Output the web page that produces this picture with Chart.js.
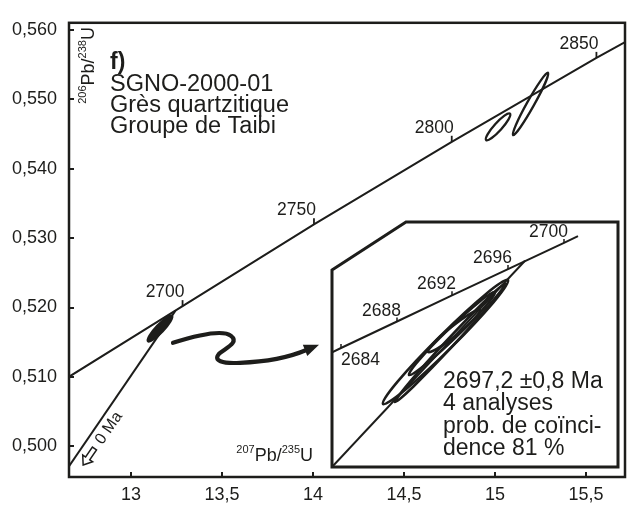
<!DOCTYPE html>
<html>
<head>
<meta charset="utf-8">
<script src="https://cdn.jsdelivr.net/npm/chart.js@4.4.0/dist/chart.umd.min.js"></script>
<style>
  body { margin: 0; background: #fff; }
  #wrap { position: relative; width: 628px; height: 508px; }
  #main { position: absolute; left: 0; top: 0; }
  #inset { position: absolute; left: 330px; top: 220px; }
</style>
</head>
<body>
<div id="wrap">
  <canvas id="main" width="628" height="508"></canvas>
  <canvas id="inset" width="290" height="249"></canvas>
</div>
<script>
var ink = '#1d1d1b';
var FONT = "'Liberation Sans', Arial, Helvetica, sans-serif";

// axes
var xTicks = [13, 13.5, 14, 14.5, 15, 15.5];
var xTickLabels = ['13', '13,5', '14', '14,5', '15', '15,5'];
var yTicks = [0.50, 0.51, 0.52, 0.53, 0.54, 0.55, 0.56];
var yTickLabels = ['0,500', '0,510', '0,520', '0,530', '0,540', '0,550', '0,560'];

// concordia, main diagram (age Ma -> 207Pb/235U, 206Pb/238U)
var concAges = [2650, 2700, 2750, 2800, 2850, 2900];
var concX = [12.597, 13.283, 14.005, 14.762, 15.557, 16.393];
var concY = [0.5090, 0.5202, 0.5320, 0.5439, 0.5560, 0.5681];
var concLabelAges = [2700, 2750, 2800, 2850];

// discordia towards 0 Ma
var discX = [12.55, 13.244];
var discY = [0.49293, 0.51955];

// error ellipses, main diagram (ends of long axis, width ratio)
var ellX1 = [13.093, 14.951, 15.099];
var ellY1 = [0.51514, 0.54415, 0.54486];
var ellX2 = [13.225, 15.082, 15.291];
var ellY2 = [0.51880, 0.54796, 0.55387];
var ellRatio = [0.22, 0.22, 0.10];
var ellFilled = [true, false, false];

// inset: zoom on the 2680-2700 Ma part
var insAges = [2680, 2684, 2688, 2692, 2696, 2700, 2701];
var insX = [13.005, 13.060, 13.116, 13.171, 13.227, 13.283, 13.297];
var insY = [0.51548, 0.51642, 0.51737, 0.51831, 0.51925, 0.52019, 0.52043];
var insLabelAges = [2684, 2688, 2692, 2696, 2700];
var insDiscX = [13.051, 13.244];
var insDiscY = [0.51215, 0.51955];
var insEllX1 = [13.102, 13.114, 13.128, 13.147];
var insEllY1 = [0.51441, 0.51448, 0.51545, 0.51628];
var insEllX2 = [13.227, 13.224, 13.214, 13.199];
var insEllY2 = [0.51886, 0.51872, 0.51843, 0.51778];
var insEllRatio = [0.09, 0.05, 0.09, 0.14];

var insetText = ['2697,2 \u00B10,8 Ma', '4 analyses', 'prob. de co\u00EFnci-', 'dence 81 %'];
var sampleText = ['SGNO-2000-01', 'Gr\u00E8s quartzitique', 'Groupe de Taibi'];

function pts(xs, ys) {
  return xs.map(function (x, i) { return { x: x, y: ys[i] }; });
}

function lineSet(data, w) {
  return { data: data, showLine: true, borderColor: ink, borderWidth: w, pointRadius: 0, tension: 0, fill: false };
}

function drawEllipses(chart, x1, y1, x2, y2, ratio, filled, lw) {
  var xs = chart.scales.x, ys = chart.scales.y, ctx = chart.ctx;
  for (var i = 0; i < x1.length; i++) {
    var ax = xs.getPixelForValue(x1[i]), ay = ys.getPixelForValue(y1[i]);
    var bx = xs.getPixelForValue(x2[i]), by = ys.getPixelForValue(y2[i]);
    var a = Math.hypot(bx - ax, by - ay) / 2;
    ctx.beginPath();
    ctx.ellipse((ax + bx) / 2, (ay + by) / 2, a, a * ratio[i], Math.atan2(by - ay, bx - ax), 0, Math.PI * 2);
    if (filled && filled[i]) { ctx.fillStyle = ink; ctx.fill(); }
    ctx.lineWidth = lw;
    ctx.strokeStyle = ink;
    ctx.stroke();
  }
}

function drawRich(ctx, parts, x, y, measureOnly) {
  var x0 = x;
  parts.forEach(function (p) {
    ctx.font = (p.sup ? '11px ' : '18px ') + FONT;
    if (!measureOnly) ctx.fillText(p.t, x, p.sup ? y - 8 : y);
    x += ctx.measureText(p.t).width;
  });
  return x - x0;
}

var mainDecor = {
  id: 'mainDecor',
  afterDraw: function (chart) {
    var ctx = chart.ctx, a = chart.chartArea;
    var xs = chart.scales.x, ys = chart.scales.y;
    ctx.save();
    ctx.strokeStyle = ink;
    ctx.fillStyle = ink;
    ctx.lineCap = 'butt';

    // frame + inward ticks
    ctx.lineWidth = 2.5;
    ctx.strokeRect(a.left, a.top, a.right - a.left, a.bottom - a.top);
    ctx.lineWidth = 2;
    xTicks.forEach(function (v) {
      var p = Math.round(xs.getPixelForValue(v));
      ctx.beginPath(); ctx.moveTo(p, a.bottom); ctx.lineTo(p, a.bottom - 5); ctx.stroke();
    });
    yTicks.forEach(function (v) {
      var p = Math.round(ys.getPixelForValue(v));
      ctx.beginPath(); ctx.moveTo(a.left, p); ctx.lineTo(a.left + 5, p); ctx.stroke();
    });

    // ellipses
    drawEllipses(chart, ellX1, ellY1, ellX2, ellY2, ellRatio, ellFilled, 2.3);

    // age ticks on concordia
    var meta = chart.getDatasetMeta(0);
    ctx.font = '17.5px ' + FONT;
    ctx.textAlign = 'right';
    ctx.textBaseline = 'alphabetic';
    ctx.lineWidth = 1.8;
    concLabelAges.forEach(function (age) {
      var el = meta.data[concAges.indexOf(age)];
      ctx.beginPath(); ctx.moveTo(el.x, el.y); ctx.lineTo(el.x, el.y - 6); ctx.stroke();
      ctx.fillText(String(age), el.x + 2, el.y - 9);
    });

    // sample description
    ctx.textAlign = 'left';
    ctx.font = 'bold 23px ' + FONT;
    ctx.fillText('f)', a.left + 41, a.top + 46);
    ctx.font = '23.5px ' + FONT;
    sampleText.forEach(function (t, i) {
      ctx.fillText(t, a.left + 41, a.top + 68 + i * 21);
    });

    // axis titles
    var yTitle = [{ t: '206', sup: true }, { t: 'Pb/' }, { t: '238', sup: true }, { t: 'U' }];
    ctx.save();
    ctx.translate(a.left + 24.5, a.top + 81);
    ctx.rotate(-Math.PI / 2);
    drawRich(ctx, yTitle, 0, 0);
    ctx.restore();
    var xTitle = [{ t: '207', sup: true }, { t: 'Pb/' }, { t: '235', sup: true }, { t: 'U' }];
    var w = drawRich(ctx, xTitle, 0, 0, true);
    drawRich(ctx, xTitle, xs.getPixelForValue(14) - w, a.bottom - 16);

    // "0 Ma" with hollow arrow along the discordia
    var dm = chart.getDatasetMeta(1);
    var p0 = dm.data[0], p1 = dm.data[1];
    var len = Math.hypot(p1.x - p0.x, p1.y - p0.y);
    var ux = (p1.x - p0.x) / len, uy = (p1.y - p0.y) / len;
    var t = (a.left - p0.x) / ux;
    var sx = p0.x + ux * t, sy = p0.y + uy * t;
    var nx = -uy, ny = ux; // normal towards lower right
    if (ny < 0) { nx = -nx; ny = -ny; }
    var ang = Math.atan2(uy, ux);
    ctx.save();
    ctx.translate(sx + ux * 54 + nx * 11.5, sy + uy * 54 + ny * 11.5);
    ctx.rotate(ang);
    ctx.font = '16px ' + FONT;
    ctx.textAlign = 'center';
    ctx.textBaseline = 'middle';
    ctx.fillText('0 Ma', 0, 0);
    ctx.restore();
    ctx.save();
    ctx.translate(sx + ux * 19 + nx * 11, sy + uy * 19 + ny * 11);
    ctx.rotate(ang + Math.PI);
    ctx.beginPath();
    ctx.moveTo(10, 0);
    ctx.lineTo(2, -6);
    ctx.lineTo(2, -2.5);
    ctx.lineTo(-10, -2.5);
    ctx.lineTo(-10, 2.5);
    ctx.lineTo(2, 2.5);
    ctx.lineTo(2, 6);
    ctx.closePath();
    ctx.lineWidth = 1.5;
    ctx.stroke();
    ctx.restore();

    // curly arrow towards the inset
    var L = a.left, T = a.top;
    ctx.lineWidth = 4.2;
    ctx.lineCap = 'round';
    ctx.beginPath();
    ctx.moveTo(L + 104, T + 320);
    ctx.bezierCurveTo(L + 126, T + 313, L + 153, T + 306, L + 162, T + 313);
    ctx.bezierCurveTo(L + 171, T + 320, L + 155, T + 326, L + 150, T + 331);
    ctx.bezierCurveTo(L + 144, T + 338, L + 153, T + 341, L + 171, T + 340);
    ctx.bezierCurveTo(L + 201, T + 339, L + 224, T + 333, L + 238, T + 327);
    ctx.stroke();
    var hx = L + 250, hy = T + 322;
    var da = Math.atan2(-6, 15);
    ctx.beginPath();
    ctx.moveTo(hx, hy);
    ctx.lineTo(hx - 15 * Math.cos(da) + 6 * Math.sin(da), hy - 15 * Math.sin(da) - 6 * Math.cos(da));
    ctx.lineTo(hx - 15 * Math.cos(da) - 6 * Math.sin(da), hy - 15 * Math.sin(da) + 6 * Math.cos(da));
    ctx.closePath();
    ctx.fill();

    ctx.restore();
  }
};

new Chart(document.getElementById('main'), {
  type: 'scatter',
  data: {
    datasets: [
      lineSet(pts(concX, concY), 2),
      lineSet(pts(discX, discY), 2)
    ]
  },
  options: {
    responsive: false,
    animation: false,
    layout: { padding: { left: 0, top: 12, right: 3, bottom: 0 } },
    plugins: { legend: { display: false }, tooltip: { enabled: false } },
    scales: {
      x: {
        type: 'linear', min: 12.659, max: 15.714,
        afterFit: function (s) { s.height = 31; },
        afterBuildTicks: function (s) { s.ticks = xTicks.map(function (v) { return { value: v }; }); },
        ticks: {
          callback: function (v, i) { return xTickLabels[i]; },
          font: { family: FONT, size: 18 }, color: ink, padding: 7, maxRotation: 0, autoSkip: false
        },
        grid: { display: false, drawTicks: false },
        border: { display: false }
      },
      y: {
        type: 'linear', min: 0.49556, max: 0.56106,
        afterFit: function (s) { s.width = 69; },
        afterBuildTicks: function (s) { s.ticks = yTicks.map(function (v) { return { value: v }; }); },
        ticks: {
          callback: function (v, i) { return yTickLabels[i]; },
          font: { family: FONT, size: 18 }, color: ink, padding: 12, autoSkip: false
        },
        grid: { display: false, drawTicks: false },
        border: { display: false }
      }
    }
  },
  plugins: [mainDecor]
});

var insetDecor = {
  id: 'insetDecor',
  beforeDatasetsDraw: function (chart) {
    var ctx = chart.ctx, a = chart.chartArea;
    ctx.save();
    ctx.beginPath();
    ctx.moveTo(a.left, a.top + 48);
    ctx.lineTo(a.left + 74, a.top);
    ctx.lineTo(a.right, a.top);
    ctx.lineTo(a.right, a.bottom);
    ctx.lineTo(a.left, a.bottom);
    ctx.closePath();
    ctx.fillStyle = '#fff';
    ctx.fill();
    ctx.restore();
  },
  afterDraw: function (chart) {
    var ctx = chart.ctx, a = chart.chartArea;
    ctx.save();
    ctx.strokeStyle = ink;
    ctx.fillStyle = ink;

    drawEllipses(chart, insEllX1, insEllY1, insEllX2, insEllY2, insEllRatio, null, 2.6);

    var meta = chart.getDatasetMeta(0);
    ctx.font = '17.5px ' + FONT;
    ctx.lineWidth = 1.5;
    insLabelAges.forEach(function (age, k) {
      var el = meta.data[insAges.indexOf(age)];
      ctx.beginPath(); ctx.moveTo(el.x, el.y); ctx.lineTo(el.x, el.y - 4); ctx.stroke();
      if (k === 0) {
        ctx.textAlign = 'left';
        ctx.textBaseline = 'top';
        ctx.fillText(String(age), el.x, el.y + 3);
      } else {
        ctx.textAlign = 'right';
        ctx.textBaseline = 'alphabetic';
        ctx.fillText(String(age), el.x + 4, el.y - 6);
      }
    });

    ctx.textAlign = 'left';
    ctx.textBaseline = 'alphabetic';
    ctx.font = '23px ' + FONT;
    insetText.forEach(function (t, i) {
      ctx.fillText(t, a.left + 111, a.top + 166 + i * 22.3);
    });

    ctx.lineWidth = 3;
    ctx.lineJoin = 'miter';
    ctx.beginPath();
    ctx.moveTo(a.left, a.top + 48);
    ctx.lineTo(a.left + 74, a.top);
    ctx.lineTo(a.right, a.top);
    ctx.lineTo(a.right, a.bottom);
    ctx.lineTo(a.left, a.bottom);
    ctx.closePath();
    ctx.stroke();
    ctx.restore();
  }
};

new Chart(document.getElementById('inset'), {
  type: 'scatter',
  data: {
    datasets: [
      lineSet(pts(insX, insY), 2),
      lineSet(pts(insDiscX, insDiscY), 2)
    ]
  },
  options: {
    responsive: false,
    animation: false,
    layout: { padding: 2 },
    plugins: { legend: { display: false }, tooltip: { enabled: false } },
    scales: {
      x: { type: 'linear', display: false, min: 13.051, max: 13.337 },
      y: { type: 'linear', display: false, min: 0.51215, max: 0.52094 }
    }
  },
  plugins: [insetDecor]
});
</script>
</body>
</html>
